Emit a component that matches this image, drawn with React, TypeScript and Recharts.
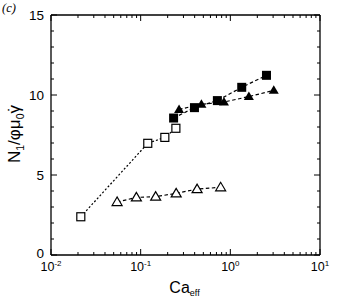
import React from 'react';
import { ScatterChart, Scatter, XAxis, YAxis } from 'recharts';

// Ca_eff values (x) and N1 / phi mu0 gamma-dot values (y)
const OPEN_SQ_X = [0.0215, 0.12, 0.186, 0.247];
const OPEN_SQ_Y = [2.39, 6.98, 7.35, 7.92];

const FILLED_SQ_X = [0.233, 0.398, 0.717, 1.34, 2.53];
const FILLED_SQ_Y = [8.56, 9.21, 9.65, 10.48, 11.23];

const FILLED_TRI_X = [0.268, 0.476, 0.849, 1.61, 3.05];
const FILLED_TRI_Y = [9.1, 9.42, 9.56, 9.9, 10.29];

const OPEN_TRI_X = [0.0546, 0.0896, 0.147, 0.249, 0.426, 0.78];
const OPEN_TRI_Y = [3.31, 3.6, 3.65, 3.85, 4.12, 4.23];

const X_MAJOR = [0.01, 0.1, 1, 10];
const X_EXP = ['-2', '-1', '0', '1'];
const X_MINOR_MULT = [2, 3, 4, 5, 6, 7, 8, 9];
const Y_MAJOR = [0, 5, 10, 15];
const Y_MINOR = [1, 2, 3, 4, 6, 7, 8, 9, 11, 12, 13, 14];

const X_TICKS = [
    ...X_MAJOR,
    ...X_MAJOR.slice(0, 3).flatMap(d => X_MINOR_MULT.map(m => +(d * m).toPrecision(3))),
].sort((a, b) => a - b);
const Y_TICKS = [...Y_MAJOR, ...Y_MINOR].sort((a, b) => a - b);

const zip = (xs: number[], ys: number[]) => xs.map((x, i) => ({ x, y: ys[i] }));

const FONT = '"Liberation Sans", Arial, Helvetica, sans-serif';
const INK = '#000';

const isMajorX = (v: number) => X_MAJOR.some(m => Math.abs(m - v) < 1e-9);
const isMajorY = (v: number) => Y_MAJOR.includes(v);

const BottomTick = (props: any) => {
    const { x, y, payload } = props;
    const v = payload.value;
    const major = isMajorX(v);
    const idx = X_MAJOR.findIndex(m => Math.abs(m - v) < 1e-9);
    return (
        <g>
            <line x1={x} x2={x} y1={y} y2={y - (major ? 6 : 3)} stroke={INK} strokeWidth={1} />
            {major && (
                <text x={x} y={y + 16} textAnchor="middle" fontSize={12.5} fontFamily={FONT} fill={INK}>
                    10<tspan dy={-5} fontSize={8}>{X_EXP[idx]}</tspan>
                </text>
            )}
        </g>
    );
};

const TopTick = (props: any) => {
    const { x, y, payload } = props;
    const major = isMajorX(payload.value);
    return <line x1={x} x2={x} y1={y} y2={y + (major ? 6 : 3)} stroke={INK} strokeWidth={1} />;
};

const LeftTick = (props: any) => {
    const { x, y, payload } = props;
    const major = isMajorY(payload.value);
    return (
        <g>
            <line x1={x} x2={x + (major ? 6 : 3)} y1={y} y2={y} stroke={INK} strokeWidth={1} />
            {major && (
                <text x={x - 7} y={y + (payload.value === 0 ? 3 : 5)} textAnchor="end" fontSize={13.5}
                    fontFamily={FONT} fill={INK}>
                    {payload.value}
                </text>
            )}
        </g>
    );
};

const RightTick = (props: any) => {
    const { x, y, payload } = props;
    const major = isMajorY(payload.value);
    return <line x1={x} x2={x - (major ? 6 : 3)} y1={y} y2={y} stroke={INK} strokeWidth={1} />;
};

const OpenSquare = ({ cx, cy }: any) => (
    <rect x={cx - 4} y={cy - 4} width={8} height={8} fill="#fff" stroke={INK} strokeWidth={1.2} />
);
const FilledSquare = ({ cx, cy }: any) => (
    <rect x={cx - 4.5} y={cy - 4.5} width={9} height={9} fill={INK} />
);
const triPoints = (cx: number, cy: number) =>
    `${cx},${cy - 5} ${cx - 5},${cy + 3.5} ${cx + 5},${cy + 3.5}`;
const FilledTriangle = ({ cx, cy }: any) => <polygon points={triPoints(cx, cy)} fill={INK} />;
const OpenTriangle = ({ cx, cy }: any) => (
    <polygon points={triPoints(cx, cy)} fill="#fff" stroke={INK} strokeWidth={1.2} />
);

const dashed = { stroke: INK, strokeWidth: 1.2, strokeDasharray: '3.5 2.5' };
const dotted = { stroke: INK, strokeWidth: 1.2, strokeDasharray: '2 2' };

const YLabel = ({ viewBox }: any) => {
    const cx = 20;
    const cy = viewBox.y + 119;
    return (
        <text x={cx} y={cy} transform={`rotate(-90, ${cx}, ${cy})`} textAnchor="middle" fontSize={17}
            fontFamily={FONT} fill={INK}>
            N<tspan fontSize={10.5} dy={4}>1</tspan>
            <tspan dy={-4}>/φμ</tspan>
            <tspan fontSize={10.5} dy={4}>0</tspan>
            <tspan dy={-4}>γ</tspan>
            <tspan dx={-7}>˙</tspan>
        </text>
    );
};

const XLabel = ({ viewBox }: any) => {
    const cx = viewBox.x + viewBox.width / 2 - 1;
    return (
        <text x={cx} y={293} textAnchor="middle" fontSize={16} fontFamily={FONT} fill={INK}>
            Ca<tspan fontSize={9} dy={3}>eff</tspan>
        </text>
    );
};

export default function App() {
    return (
        <div style={{ position: 'absolute', left: 0, top: 0, width: 337, height: 300, background: '#fff' }}>
            <svg width={20} height={16} style={{ position: 'absolute', left: 0, top: 0 }}>
                <text x={2} y={12} fontSize={12.5} fontStyle="italic" fontFamily='"Liberation Serif", serif' fill={INK}>
                    (c)
                </text>
            </svg>
            <ScatterChart width={337} height={300} margin={{ top: 14, right: 16, bottom: 0, left: 0 }}>
                <XAxis
                    dataKey="x"
                    type="number"
                    scale="log"
                    domain={[0.01, 10]}
                    allowDataOverflow
                    ticks={X_TICKS}
                    interval={0}
                    tickSize={0}
                    tickMargin={0}
                    tick={<BottomTick />}
                    height={45}
                    axisLine={{ stroke: INK, strokeWidth: 1.3 }}
                    label={<XLabel />}
                />
                <XAxis
                    xAxisId="t"
                    orientation="top"
                    dataKey="x"
                    type="number"
                    scale="log"
                    domain={[0.01, 10]}
                    allowDataOverflow
                    ticks={X_TICKS}
                    interval={0}
                    tickSize={0}
                    tickMargin={0}
                    tick={<TopTick />}
                    height={1}
                    axisLine={{ stroke: INK, strokeWidth: 1.3 }}
                />
                <YAxis
                    dataKey="y"
                    type="number"
                    domain={[0, 15]}
                    allowDataOverflow
                    ticks={Y_TICKS}
                    interval={0}
                    tickSize={0}
                    tickMargin={0}
                    tick={<LeftTick />}
                    width={51}
                    axisLine={{ stroke: INK, strokeWidth: 1.3 }}
                    label={<YLabel />}
                />
                <YAxis
                    yAxisId="r"
                    orientation="right"
                    dataKey="y"
                    type="number"
                    domain={[0, 15]}
                    allowDataOverflow
                    ticks={Y_TICKS}
                    interval={0}
                    tickSize={0}
                    tickMargin={0}
                    tick={<RightTick />}
                    width={1}
                    axisLine={{ stroke: INK, strokeWidth: 1.3 }}
                />
                <Scatter data={zip(OPEN_SQ_X, OPEN_SQ_Y)} line={dotted} lineType="joint"
                    shape={<OpenSquare />} isAnimationActive={false} />
                <Scatter data={zip(OPEN_TRI_X, OPEN_TRI_Y)} line={dashed} lineType="joint"
                    shape={<OpenTriangle />} isAnimationActive={false} />
                <Scatter data={zip(FILLED_TRI_X, FILLED_TRI_Y)} line={dashed} lineType="joint"
                    shape={<FilledTriangle />} isAnimationActive={false} />
                <Scatter data={zip(FILLED_SQ_X, FILLED_SQ_Y)} line={dashed} lineType="joint"
                    shape={<FilledSquare />} isAnimationActive={false} />
            </ScatterChart>
        </div>
    );
}
